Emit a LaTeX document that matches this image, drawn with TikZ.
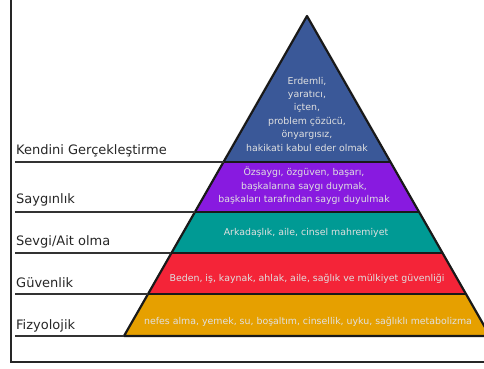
\documentclass[tikz,border=0pt]{standalone}
\usepackage{fontspec}
\setmainfont{DejaVu Sans}
\usetikzlibrary{calc, positioning}

\definecolor{kendiniblue}{RGB}{58,88,152}
\definecolor{saygipurple}{RGB}{136,26,224}
\definecolor{sevgiteal}{RGB}{0,154,148}
\definecolor{guvenred}{RGB}{244,36,56}
\definecolor{fizyoorange}{RGB}{230,160,0}

\begin{document}
\begin{tikzpicture}[x=1pt, y=-1pt,
    level/.style = {anchor=base west, inner sep=0pt,
        font=\fontsize{13}{15}\selectfont, text=black!85},
    inside/.style = {align=center, inner sep=0pt,
        font=\fontsize{9.4}{13.4}\selectfont, text=white!88!black},
    rule/.style = {draw=black!80, line width=1.3pt},
    outline/.style = {draw=black!90, line width=2.2pt, line join=round}]
    % \draw [help lines] (0,0) grid [step=20] (484,368);
    \useasboundingbox (0,0) rectangle (484,368);
    \clip (0,0) rectangle (484,368);
    \draw [line width=1.5pt, black!85] (11,-5) -- (11,362) -- (490,362);

    \coordinate (A) at (307,16);
    \coordinate (BL) at (124,336);
    \coordinate (BR) at (490,336);
    \coordinate (W) at (15,0);

    \coordinate (L1) at ($(A)!0.456!(BL)$);
    \coordinate (R1) at ($(A)!0.456!(BR)$);
    \coordinate (L2) at ($(A)!0.6125!(BL)$);
    \coordinate (R2) at ($(A)!0.6125!(BR)$);
    \coordinate (L3) at ($(A)!0.741!(BL)$);
    \coordinate (R3) at ($(A)!0.741!(BR)$);
    \coordinate (L4) at ($(A)!0.869!(BL)$);
    \coordinate (R4) at ($(A)!0.869!(BR)$);

    \fill [kendiniblue] (A) -- (R1) -- (L1) -- cycle;
    \fill [saygipurple] (L1) -- (R1) -- (R2) -- (L2) -- cycle;
    \fill [sevgiteal] (L2) -- (R2) -- (R3) -- (L3) -- cycle;
    \fill [guvenred] (L3) -- (R3) -- (R4) -- (L4) -- cycle;
    \fill [fizyoorange] (L4) -- (R4) -- (BR) -- (BL) -- cycle;

    \draw [outline] (L1) -- (R1) (L2) -- (R2) (L3) -- (R3) (L4) -- (R4);
    \draw [outline] (A) -- (BL) -- (BR) -- cycle;

    \draw [rule] (W |- L1) -- (L1);
    \draw [rule] (W |- L2) -- (L2);
    \draw [rule] (W |- L3) -- (L3);
    \draw [rule] (W |- L4) -- (L4);
    \draw [rule] (W |- BL) -- (BL);

    \node (kendini) [level] at (16,154) {Kendini Gerçekleştirme};
    \node (saygi) [level] at (16,203) {Saygınlık};
    \node (sevgi) [level] at (16,245) {Sevgi/Ait olma};
    \node (guven) [level] at (16,287) {Güvenlik};
    \node (fizyo) [level] at (16,329) {Fizyolojik};

    \node (kendinitext) [inside] at (307,114) {Erdemli,\\yaratıcı,\\içten,\\problem çözücü,\\önyargısız,\\hakikati kabul eder olmak};
    \node (saygitext) [inside] at (304,186) {Özsaygı, özgüven, başarı,\\başkalarına saygı duymak,\\başkaları tarafından saygı duyulmak};
    \node (sevgitext) [inside] at (306,233) {Arkadaşlık, aile, cinsel mahremiyet};
    \node (guventext) [inside] at (307,279) {Beden, iş, kaynak, ahlak, aile, sağlık ve mülkiyet güvenliği};
    \node (fizyotext) [inside] at (308,322) {nefes alma, yemek, su, boşaltım, cinsellik, uyku, sağlıklı metabolizma};
\end{tikzpicture}
\end{document}
